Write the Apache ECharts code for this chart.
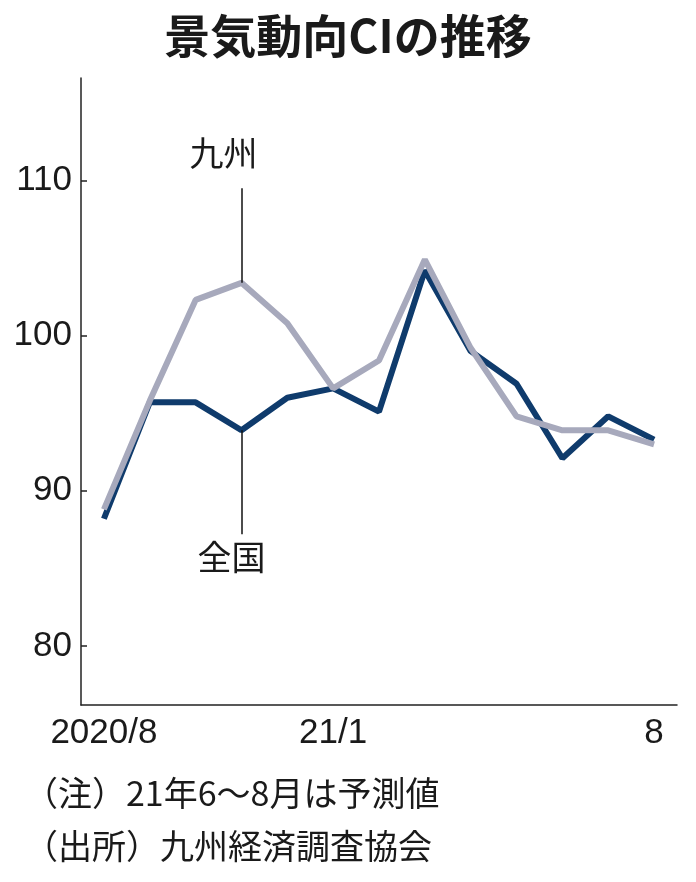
<!DOCTYPE html>
<html>
<head>
<meta charset="utf-8">
<script src="https://cdn.jsdelivr.net/npm/echarts@6/dist/echarts.min.js"></script>
<style>
  html, body { margin: 0; padding: 0; background: #fff; }
  #chart { width: 696px; height: 882px; }
</style>
</head>
<body>
<div id="chart"></div>
<script>
// months 2020/8 .. 2021/8
var months = ['2020/8', '9', '10', '11', '12', '21/1', '2', '3', '4', '5', '6', '7', '8'];
var shownLabels = ['2020/8', '21/1', '8'];
var zenkoku = [88.2, 95.7, 95.7, 93.9, 96.0, 96.6, 95.1, 104.2, 99.0, 96.9, 92.1, 94.8, 93.3];
var kyushu = [88.8, 95.8, 102.3, 103.4, 100.8, 96.6, 98.4, 104.9, 99.2, 94.8, 93.9, 93.9, 93.0];
var yTicks = [80, 90, 100, 110];

var numFont = '"Liberation Sans", sans-serif';
var jpFont = '"Noto Sans CJK JP", sans-serif';

var chart = echarts.init(document.getElementById('chart'));

chart.setOption({
  animation: false,
  title: {
    text: '景気動向CIの推移',
    left: 'center',
    top: 8,
    textStyle: { fontFamily: jpFont, fontSize: 46, fontWeight: 'bold', color: '#1a1a1a' }
  },
  grid: { left: 81, right: 19, top: 78, bottom: 177 },
  xAxis: {
    type: 'category',
    data: months,
    boundaryGap: true,
    axisLine: { lineStyle: { color: '#222', width: 1.5 } },
    axisTick: { inside: true, length: 7, alignWithLabel: true, lineStyle: { color: '#222', width: 1.5 } },
    axisLabel: {
      interval: function (i, v) { return shownLabels.indexOf(v) >= 0; },
      color: '#1a1a1a', fontFamily: numFont, fontSize: 35, margin: 11
    }
  },
  yAxis: {
    type: 'value',
    min: 76.2,
    max: 116.6,
    splitLine: { show: false },
    axisLine: { show: true, lineStyle: { color: '#222', width: 1.5 } },
    axisTick: { show: true, inside: true, length: 6, customValues: yTicks, lineStyle: { color: '#222', width: 1.5 } },
    axisLabel: { customValues: yTicks, color: '#1a1a1a', fontFamily: numFont, fontSize: 35, margin: 9 }
  },
  series: [
    {
      name: '全国',
      type: 'line',
      data: zenkoku,
      symbol: 'none',
      lineStyle: { color: '#0f3b6c', width: 6 },
      z: 2,
      markLine: {
        silent: true,
        symbol: 'none',
        lineStyle: { color: '#111', width: 1.5, type: 'solid' },
        label: {
          show: true, position: 'end', formatter: '全国', distance: 6,
          padding: [0, 20, 0, 0],
          fontFamily: jpFont, fontSize: 34, color: '#1a1a1a'
        },
        data: [[{ coord: ['11', 93.9] }, { coord: ['11', 87.2] }]]
      }
    },
    {
      name: '九州',
      type: 'line',
      data: kyushu,
      symbol: 'none',
      lineStyle: { color: '#a7a9bc', width: 6 },
      z: 3,
      markLine: {
        silent: true,
        symbol: 'none',
        lineStyle: { color: '#111', width: 1.5, type: 'solid' },
        label: {
          show: true, position: 'end', formatter: '九州', distance: 18,
          padding: [0, 36, 0, 0],
          fontFamily: jpFont, fontSize: 34, color: '#1a1a1a'
        },
        data: [[{ coord: ['11', 103.4] }, { coord: ['11', 109.5] }]]
      }
    }
  ],
  graphic: [
    {
      type: 'text', left: 24, top: 776,
      style: { text: '（注）21年6～8月は予測値', font: '34px ' + jpFont, fill: '#1a1a1a' }
    },
    {
      type: 'text', left: 24, top: 829,
      style: { text: '（出所）九州経済調査協会', font: '34px ' + jpFont, fill: '#1a1a1a' }
    }
  ]
});
</script>
</body>
</html>
